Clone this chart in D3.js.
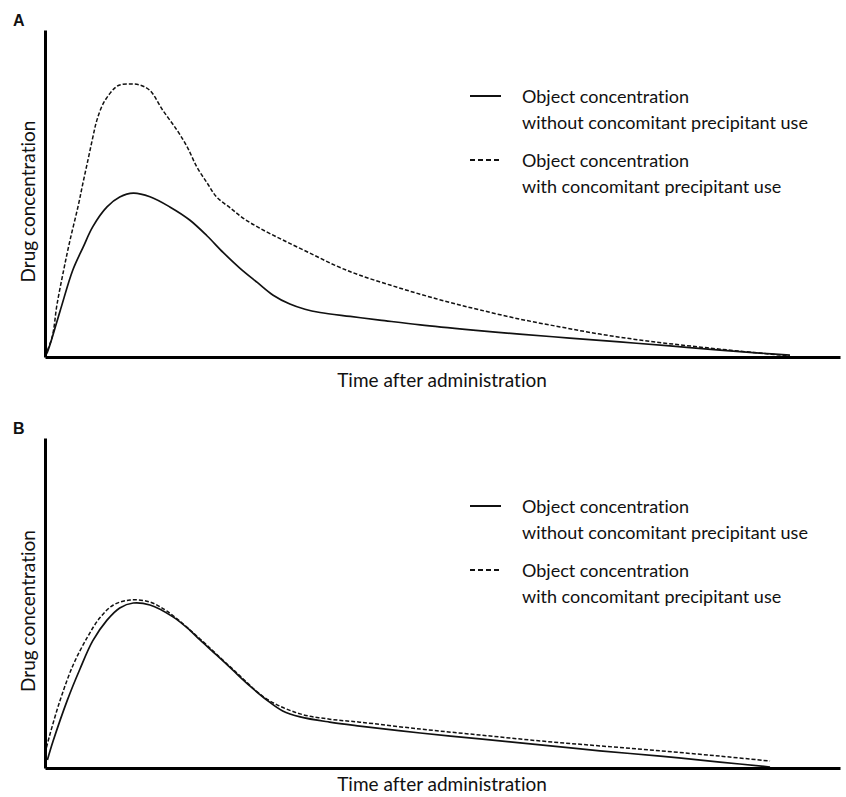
<!DOCTYPE html>
<html>
<head>
<meta charset="utf-8">
<script src="https://cdn.jsdelivr.net/npm/d3@7"></script>
<style>
  body { margin: 0; background: #fff; }
  text { font-family: Lato, "Open Sans", sans-serif; fill: #111; font-variant-ligatures: none; }
</style>
</head>
<body>
<div id="chart"></div>
<script>
// time after administration (arbitrary units, 0-100) and concentration (0-100)
var timeA_without = [0, 0.3, 1.9, 3.5, 4.8, 6.0, 7.8, 9.4, 11.1, 13.2, 15.7, 18.2, 20.4, 22.4, 24.5, 26.7, 28.7, 30.8, 32.7, 34.6, 38.4, 42.1, 47.2, 53.5, 59.7, 66.0, 72.3, 78.6, 84.9, 89.9, 93.7];
var concA_without = [0.3, 1.5, 14.1, 26.6, 33.6, 39.8, 45.9, 48.9, 50.1, 49.0, 45.9, 41.9, 37.0, 32.0, 27.2, 22.8, 18.9, 16.2, 14.6, 13.6, 12.4, 11.3, 9.8, 8.3, 7.0, 5.8, 4.6, 3.4, 2.1, 1.2, 0.6];

var timeA_with = [0, 0.9, 1.5, 2.3, 3.1, 4.2, 4.8, 5.4, 6.0, 6.5, 7.3, 8.2, 8.8, 9.4, 10.7, 11.9, 13.2, 14.8, 16.6, 17.9, 19.1, 20.4, 21.6, 23.3, 24.9, 27.0, 29.9, 33.3, 36.7, 39.6, 43.4, 47.2, 50.9, 54.7, 59.7, 64.8, 69.8, 74.8, 79.9, 84.9, 89.9, 93.7];
var concA_with = [0.3, 6.1, 15.9, 26.0, 35.2, 46.5, 53.5, 60.2, 67.0, 72.2, 77.4, 80.7, 82.3, 83.2, 83.5, 83.2, 81.5, 75.5, 69.4, 64.2, 58.1, 53.2, 48.9, 45.6, 42.5, 39.4, 35.8, 31.8, 27.8, 25.0, 22.0, 19.2, 16.7, 14.4, 11.6, 9.2, 7.0, 5.2, 3.7, 2.4, 1.2, 0.3];

var timeB_without = [0.3, 1.0, 2.8, 4.4, 6.0, 7.8, 9.4, 11.1, 13.2, 16.1, 18.2, 19.5, 21.6, 23.6, 25.8, 27.9, 29.9, 32.1, 35.8, 39.6, 47.2, 54.7, 62.3, 69.8, 77.4, 84.9, 91.2];
var concB_without = [2.4, 8.0, 20.5, 30.0, 38.5, 44.8, 48.5, 50.0, 49.4, 45.8, 41.8, 38.8, 34.2, 29.7, 24.8, 20.6, 17.3, 15.5, 13.9, 12.7, 10.6, 8.8, 7.0, 5.2, 3.6, 1.8, 0.3];

var timeB_with = [0, 0.6, 1.9, 3.5, 5.3, 6.9, 8.6, 10.7, 13.2, 15.3, 17.4, 19.5, 23.6, 27.9, 32.1, 35.8, 39.6, 47.2, 54.7, 62.3, 69.8, 77.4, 84.9, 91.2];
var concB_with = [4.5, 10.0, 20.5, 31.0, 39.5, 45.5, 49.4, 50.9, 50.3, 47.6, 43.6, 39.1, 30.0, 20.9, 16.4, 14.8, 13.9, 11.8, 10.0, 8.2, 6.7, 5.2, 3.6, 2.1];

var legendLabels = [
  ["Object concentration", "without concomitant precipitant use"],
  ["Object concentration", "with concomitant precipitant use"]
];
var panelLabels = ["A", "B"];
var xTitle = "Time after administration";
var yTitle = "Drug concentration";

var svg = d3.select("#chart").append("svg")
  .attr("width", 846)
  .attr("height", 797);

function zip(ts, cs) {
  return ts.map(function (t, i) { return { t: t, c: cs[i] }; });
}

function drawPanel(opts) {
  var x = d3.scaleLinear().domain([0, 100]).range([45, 840]);
  var y = d3.scaleLinear().domain([0, 100]).range([opts.bottom, opts.top]);

  var g = svg.append("g");

  var line = d3.line()
    .x(function (d) { return x(d.t); })
    .y(function (d) { return y(d.c); })
    .curve(d3.curveCatmullRom.alpha(0.5));

  g.append("path")
    .datum(opts.withData)
    .attr("d", line)
    .attr("fill", "none")
    .attr("stroke", "#111")
    .attr("stroke-width", 1.5)
    .attr("stroke-dasharray", "4,2");

  g.append("path")
    .datum(opts.withoutData)
    .attr("d", line)
    .attr("fill", "none")
    .attr("stroke", "#111")
    .attr("stroke-width", 1.7);

  // axes without ticks, heavy domain lines
  g.append("g")
    .attr("transform", "translate(0," + opts.bottom + ")")
    .call(d3.axisBottom(x).tickValues([]).tickSizeOuter(0));
  g.append("g")
    .attr("transform", "translate(45,0)")
    .call(d3.axisLeft(y).tickValues([]).tickSizeOuter(0));
  g.selectAll(".domain")
    .attr("stroke", "#000")
    .attr("stroke-width", 3);

  g.append("text")
    .attr("x", 442)
    .attr("y", opts.xTitleY)
    .attr("text-anchor", "middle")
    .style("font-size", "19px")
    .text(xTitle);

  g.append("text")
    .attr("transform", "translate(35," + ((opts.top + opts.bottom) / 2 + 8) + ") rotate(-90)")
    .attr("text-anchor", "middle")
    .style("font-size", "19px")
    .text(yTitle);

  g.append("text")
    .attr("x", 13)
    .attr("y", opts.top - 4)
    .style("font-family", "'Liberation Sans', Arial, sans-serif")
    .style("font-weight", "bold")
    .style("font-size", "16px")
    .text(opts.label);

  // legend
  var leg = g.append("g").attr("transform", "translate(470," + opts.legendTop + ")");
  legendLabels.forEach(function (lines, i) {
    var row = leg.append("g").attr("transform", "translate(0," + (i * 64) + ")");
    row.append("line")
      .attr("x1", 0).attr("x2", 31)
      .attr("y1", 0).attr("y2", 0)
      .attr("stroke", "#111")
      .attr("stroke-width", 2)
      .attr("stroke-dasharray", i === 0 ? null : "5,3");
    lines.forEach(function (s, j) {
      row.append("text")
        .attr("x", 52)
        .attr("y", 7 + j * 26)
        .style("font-size", "18px")
        .text(s);
    });
  });
}

drawPanel({
  label: panelLabels[0], top: 30, bottom: 357, legendTop: 96, xTitleY: 387,
  withoutData: zip(timeA_without, concA_without),
  withData: zip(timeA_with, concA_with)
});
drawPanel({
  label: panelLabels[1], top: 438, bottom: 768, legendTop: 506, xTitleY: 791,
  withoutData: zip(timeB_without, concB_without),
  withData: zip(timeB_with, concB_with)
});
</script>
</body>
</html>
